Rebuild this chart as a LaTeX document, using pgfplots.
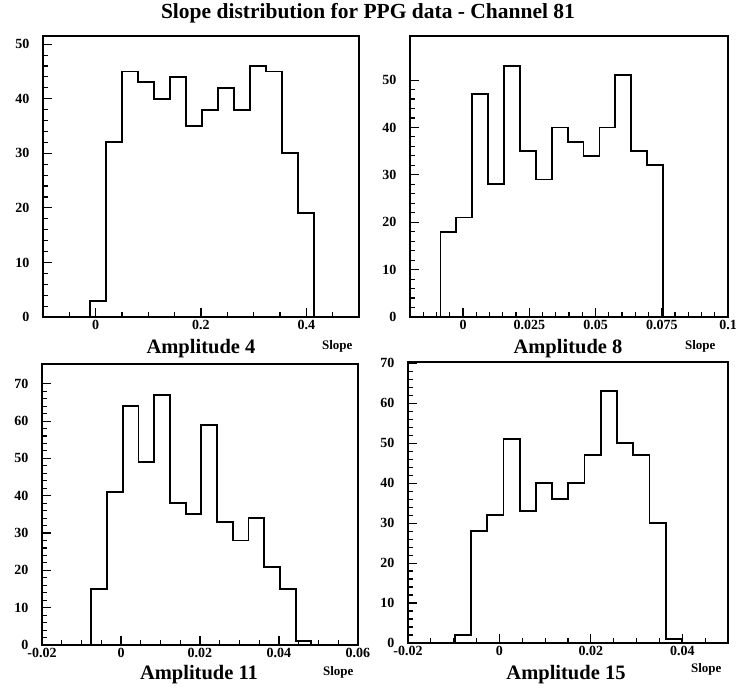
\documentclass[border=0pt]{standalone}
\usepackage{fontspec}
\setmainfont{Liberation Serif}
\usepackage{pgfplots}
\pgfplotsset{compat=1.18}

\pgfplotsset{
  histo/.style={
    scale only axis, anchor=south west,
    ymin=0,
    axis line style={line width=2.2pt},
    tick align=inside, tick pos=left,
    major tick length=9pt, minor tick length=4.5pt,
    tick style={black, line width=1.1pt},
    tick label style={font=\bfseries\fontsize{14}{16}\selectfont},
    yticklabel style={xshift=-10pt},
    scaled x ticks=false, scaled y ticks=false,
    /pgf/number format/assume math mode=true,
    minor y tick num=4,
  },
  hist/.style={const plot mark left, black, line width=1.8pt, no marks},
}

\begin{document}
\begin{tikzpicture}[x=1pt,y=1pt]
\path[use as bounding box] (0,0) rectangle (736,688);

% Amplitude 4
\begin{axis}[histo, at={(43pt,371pt)}, width=316pt, height=281pt,
    xmin=-0.1, xmax=0.5, ymax=51.5,
    xtick={0,0.2,0.4}, xticklabels={0,0.2,0.4},
    minor xtick={-0.05,0.05,0.1,0.15,0.25,0.3,0.35,0.45},
    ytick={0,10,20,30,40,50}]
\addplot[hist] coordinates {
  (-0.0115,0) (-0.0115,3) (0.0190,32) (0.0494,45) (0.0799,43) (0.1103,40)
  (0.1408,44) (0.1712,35) (0.2017,38) (0.2321,42) (0.2626,38) (0.2930,46)
  (0.3235,45) (0.3539,30) (0.3844,19) (0.4148,19) (0.4148,0)
};
\end{axis}

% Amplitude 8
\begin{axis}[histo, at={(410pt,371pt)}, width=318pt, height=281pt,
    xmin=-0.02, xmax=0.1, ymax=59.3,
    xtick={0,0.025,0.05,0.075,0.1}, xticklabels={0,0.025,0.05,0.075,0.1},
    minor xtick={-0.015,-0.01,-0.005,0.005,0.01,0.015,0.02,0.03,0.035,0.04,0.045,0.055,0.06,0.065,0.07,0.08,0.085,0.09,0.095},
    ytick={0,10,20,30,40,50}]
\addplot[hist] coordinates {
  (-0.0085,0) (-0.0085,18) (-0.0025,21) (0.0035,47) (0.0095,28) (0.0155,53)
  (0.0215,35) (0.0275,29) (0.0335,40) (0.0395,37) (0.0455,34) (0.0515,40)
  (0.0575,51) (0.0635,35) (0.0695,32) (0.0755,32) (0.0755,0)
};
\end{axis}

% Amplitude 11
\begin{axis}[histo, at={(42pt,43pt)}, width=316pt, height=281pt,
    xmin=-0.02, xmax=0.06, ymax=75.3,
    xtick={-0.02,0,0.02,0.04,0.06}, xticklabels={-0.02,0,0.02,0.04,0.06},
    minor xtick={-0.015,-0.01,-0.005,0.005,0.01,0.015,0.025,0.03,0.035,0.045,0.05,0.055},
    ytick={0,10,20,30,40,50,60,70}]
\addplot[hist] coordinates {
  (-0.0075,0) (-0.0075,15) (-0.00352,41) (0.00045,64) (0.00443,49) (0.00841,67)
  (0.01239,38) (0.01636,35) (0.02034,59) (0.02432,33) (0.02830,28) (0.03227,34)
  (0.03625,21) (0.04023,15) (0.04421,1) (0.04818,1) (0.04818,0)
};
\end{axis}

% Amplitude 15
\begin{axis}[histo, at={(408pt,45pt)}, width=320pt, height=281pt,
    xmin=-0.02, xmax=0.05, ymax=70.3,
    xtick={-0.02,0,0.02,0.04}, xticklabels={-0.02,0,0.02,0.04},
    minor xtick={-0.015,-0.01,-0.005,0.005,0.01,0.015,0.025,0.03,0.035,0.045},
    ytick={0,10,20,30,40,50,60,70}]
\addplot[hist] coordinates {
  (-0.00978,0) (-0.00978,2) (-0.00623,28) (-0.00268,32) (0.00087,51) (0.00442,33)
  (0.00797,40) (0.01151,36) (0.01506,40) (0.01861,47) (0.02216,63) (0.02571,50)
  (0.02926,47) (0.03281,30) (0.03636,1) (0.03991,1) (0.03991,0)
};
\end{axis}

\node[anchor=base, font=\bfseries\fontsize{21.5}{24}\selectfont] at (368,669.5) {Slope distribution for PPG data - Channel 81};

\begin{scope}[every node/.style={font=\bfseries\fontsize{20.5}{23}\selectfont}]
\node[anchor=base] at (201,334) {Amplitude 4};
\node[anchor=base] at (568,334) {Amplitude 8};
\node[anchor=base] at (199,9) {Amplitude 11};
\node[anchor=base] at (566,9) {Amplitude 15};
\end{scope}
\begin{scope}[every node/.style={font=\bfseries\fontsize{13}{15}\selectfont}]
\node[anchor=base east] at (356,338) {Slope};
\node[anchor=base east] at (719,338) {Slope};
\node[anchor=base east] at (357,13) {Slope};
\node[anchor=base east] at (725,16) {Slope};
\end{scope}
\end{tikzpicture}
\end{document}
